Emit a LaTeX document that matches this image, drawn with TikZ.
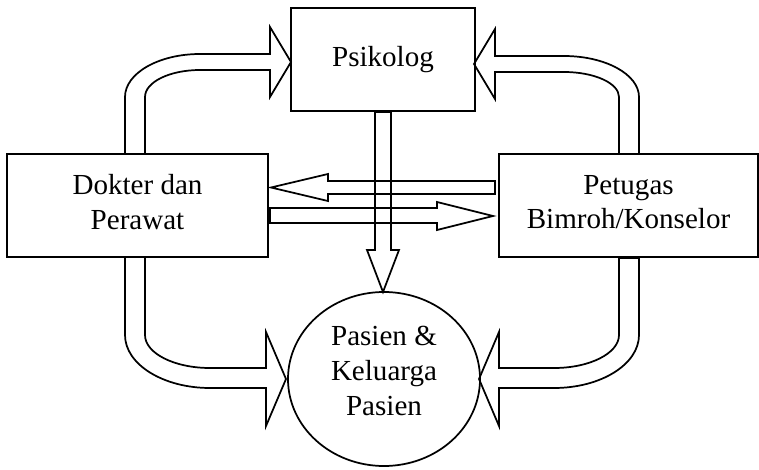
\documentclass[tikz,border=0pt]{standalone}
\usepackage{fontspec}
\setmainfont{Liberation Serif}
\usetikzlibrary{shapes.geometric}
\begin{document}
\begin{tikzpicture}[
  x=0.75pt, y=-0.75pt,
  every node/.style={font=\fontsize{21.8pt}{26pt}\selectfont, align=center, inner sep=0pt},
  box/.style={draw, line width=1.3pt, rectangle, minimum height=77.25pt},
  round/.style={draw, line width=1.3pt, ellipse, minimum width=144pt, minimum height=130.5pt},
  blockarrow/.style={draw, line width=1.3pt, line join=miter}
]
\useasboundingbox (0,0) rectangle (759,470);

% roles
\node[box, minimum width=138pt]    (psikolog) at (383,59.5)   {Psikolog};
\node[box, minimum width=195.75pt] (dokter)   at (137.5,205.5) {};
\node[box, minimum width=194.25pt] (petugas)  at (628.5,205.5) {};
\node[round] (pasien) at (384,379) {};
\node[yshift=2.5pt] (doktertext)  at (dokter.center)  {Dokter dan\\Perawat};
\node[yshift=2.5pt] (petugastext) at (petugas.center) {Petugas\\Bimroh/Konselor};
\node[yshift=6pt]   (pasientext)  at (pasien.center)  {Pasien \&\\Keluarga\\Pasien};

% curved block arrow: Dokter -> Psikolog
\draw[blockarrow] (125,154) -- (125,97)
  .. controls (125,73.3) and (158.6,54) .. (200,54)
  -- (270,54) -- (270,27) -- (291,62) -- (270,97) -- (270,70) -- (200,70)
  .. controls (169.6,70) and (145,82.1) .. (145,97)
  -- (145,154) -- cycle;

% curved block arrow: Petugas -> Psikolog
\draw[blockarrow] (639,154) -- (639,97)
  .. controls (639,74.4) and (605.4,56) .. (564,56)
  -- (495,56) -- (495,29) -- (474,64) -- (495,99) -- (495,72) -- (564,72)
  .. controls (594.4,72) and (619,83.2) .. (619,97)
  -- (619,154) -- cycle;

% curved block arrow: Dokter -> Pasien
\draw[blockarrow] (125,257) -- (125,335)
  .. controls (125,364.3) and (163.1,388) .. (210,388)
  -- (266,388) -- (266,426) -- (286,379) -- (266,332) -- (266,368) -- (210,368)
  .. controls (174.1,368) and (145,353.2) .. (145,335)
  -- (145,257) -- cycle;

% curved block arrow: Petugas -> Pasien
\draw[blockarrow] (639,258) -- (639,335)
  .. controls (639,364.3) and (600.9,388) .. (554,388)
  -- (499,388) -- (499,426) -- (479,379) -- (499,332) -- (499,368) -- (554,368)
  .. controls (589.9,368) and (619,353.2) .. (619,335)
  -- (619,258) -- cycle;

% straight block arrow: Psikolog -> Pasien
\draw[blockarrow] (375,112) -- (375,250) -- (367,250) -- (383,292)
  -- (399,250) -- (391,250) -- (391,112) -- cycle;

% straight block arrow: Petugas -> Dokter
\draw[blockarrow] (495,181) -- (328,181) -- (328,174) -- (271,187.5)
  -- (328,201) -- (328,194) -- (495,194) -- cycle;

% straight block arrow: Dokter -> Petugas
\draw[blockarrow] (270,208) -- (437,208) -- (437,202) -- (493,216)
  -- (437,230) -- (437,223) -- (270,223) -- cycle;
\end{tikzpicture}
\end{document}
